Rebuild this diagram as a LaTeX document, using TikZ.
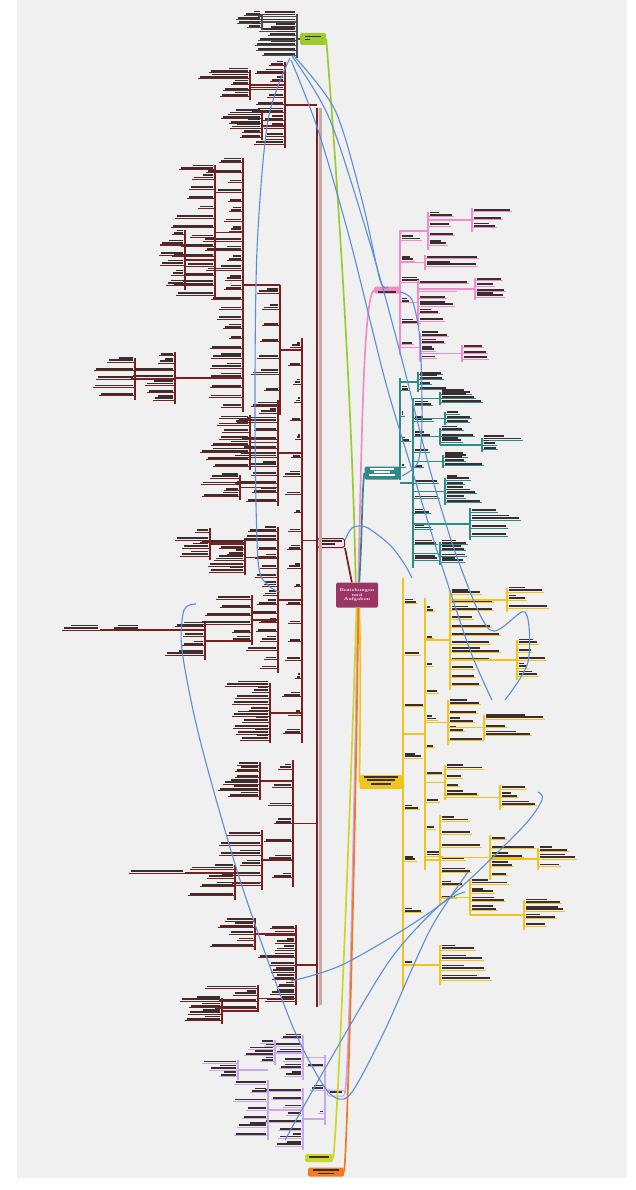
\documentclass[tikz,border=0pt]{standalone}
\definecolor{canvas}{HTML}{F0F0F0}
\definecolor{brmaroon}{HTML}{7A1E1E}
\definecolor{brtan}{HTML}{C9A7A7}
\definecolor{brrose}{HTML}{F28CC8}
\definecolor{brteal}{HTML}{2E8A86}
\definecolor{brgold}{HTML}{F2C318}
\definecolor{brlime}{HTML}{9CCB2C}
\definecolor{brlimeb}{HTML}{CBD82A}
\definecolor{brorange}{HTML}{F27A22}
\definecolor{brlilac}{HTML}{C9A6F2}
\definecolor{brlink}{HTML}{5B8ED8}
\definecolor{brplum}{HTML}{9A3566}
\definecolor{ink}{HTML}{3A2E2E}

% spine with leaves: colour, x, y top, y bottom, count, direction, max width, parent x
\newcommand{\twigs}[8]{%
  \pgfmathsetmacro{\ym}{(#3+#4)/2}%
  \draw[color=#1,line width=1.3pt] (#8,\ym) -- (#2,\ym);
  \draw[color=#1,line width=1.3pt] (#2,#3) -- (#2,#4);
  \foreach \k in {1,...,#5}{%
    \pgfmathsetmacro{\yy}{#3+(\k-.5)*(#4-#3)/#5}%
    \pgfmathsetmacro{\ww}{#7*(.35+.65*rnd)}%
    \pgfmathsetmacro{\lw}{(#6)*\ww}%
    \pgfmathsetmacro{\xs}{#2+(#6)*2}%
    \pgfmathsetmacro{\tw}{(#6)*(\ww-4)}%
    \pgfmathsetmacro{\tv}{\tw*(.4+.5*rnd)}%
    \pgfmathtruncatemacro{\two}{rnd<.5 ? 1 : 0}%
    \draw[color=#1,line width=1pt] (#2,\yy) -- ++(\lw,0);
    \fill[ink] (\xs,\yy-1) rectangle ++(\tw,-1.8);
    \ifnum\two=1 \fill[ink] (\xs,\yy-3.6) rectangle ++(\tv,-1.6);\fi
  }}

\begin{document}
\begin{tikzpicture}[x=1pt,y=-1pt,
  topic/.style={rounded corners=1.5pt,inner sep=0pt},
  branch/.style={line width=1.7pt},
  xlink/.style={brlink,line width=1.1pt}]
\useasboundingbox (0,0) rectangle (635,1190);
\fill[white] (0,0) rectangle (635,1190);
\fill[canvas] (17,0) rectangle (627,1178);
\pgfmathsetseed{11}

% main topics
\node[topic,fill=brplum,text=white,minimum width=42pt,minimum height=25pt,
  font=\fontsize{4.2}{4.8}\selectfont\bfseries,align=center] (core) at (357,595)
  {Beziehungen\\und\\Aufgaben};
\node[topic,fill=brrose,minimum width=26pt,minimum height=7pt] (pink) at (387,290) {};
\node[topic,fill=brteal,minimum width=35pt,minimum height=13pt] (teal) at (382,473) {};
\node[topic,fill=brgold,minimum width=43pt,minimum height=14pt] (gold) at (381,782) {};
\node[topic,fill=brlime,minimum width=26pt,minimum height=12pt] (limeA) at (313,39) {};
\node[topic,fill=brlimeb,minimum width=28pt,minimum height=8pt] (limeB) at (319,1158) {};
\node[topic,fill=brorange,minimum width=36pt,minimum height=9pt] (orangeA) at (326,1172) {};
\node[topic,draw=brlilac,fill=canvas,line width=1pt,minimum width=17pt,minimum height=6pt] (lilacA) at (336,1093) {};
\node[topic,draw=brmaroon,fill=brrose!25,line width=1pt,minimum width=27pt,minimum height=9pt] (redA) at (331,543) {};

% blurred labels inside topics
\fill[ink] ([xshift=-9pt,yshift=-1pt]pink.center) rectangle ++(18,2);
\fill[white] ([xshift=-12pt,yshift=3pt]teal.center) rectangle ++(24,-1.6);
\fill[white] ([xshift=-8pt,yshift=0pt]teal.center) rectangle ++(16,-1.6);
\fill[white] ([xshift=-13pt,yshift=-3pt]teal.center) rectangle ++(26,-1.6);
\fill[ink] ([xshift=-17pt,yshift=4pt]gold.center) rectangle ++(34,-1.6);
\fill[ink] ([xshift=-14pt,yshift=1pt]gold.center) rectangle ++(28,-1.6);
\fill[ink] ([xshift=-10pt,yshift=-2.5pt]gold.center) rectangle ++(20,-1.6);
\fill[ink] ([xshift=-8pt,yshift=1.5pt]limeA.center) rectangle ++(16,-1.6);
\fill[ink] ([xshift=-8pt,yshift=-1.5pt]limeA.center) rectangle ++(5,-1.6);
\fill[ink] ([xshift=-10pt,yshift=0pt]limeB.center) rectangle ++(20,-2);
\fill[ink] ([xshift=-13pt,yshift=1pt]orangeA.center) rectangle ++(26,-1.6);
\fill[ink] ([xshift=-8pt,yshift=-2pt]orangeA.center) rectangle ++(16,-1.4);
\fill[ink] ([xshift=-6pt,yshift=0pt]lilacA.center) rectangle ++(12,-1.6);
\fill[ink] ([xshift=-11pt,yshift=1.5pt]redA.center) rectangle ++(22,-1.6);
\fill[ink] ([xshift=-11pt,yshift=-1.5pt]redA.center) rectangle ++(15,-1.6);

% branches from the core
\draw[brtan,line width=2.2pt] (320.4,108) -- (320.4,1005);
\draw[brmaroon,line width=2.2pt] (316.8,108) -- (316.8,1007);
\draw[branch,brmaroon] (redA.south east) -- (core.112);
\draw[branch,brlime] (core.96) .. controls (352,380) and (332,110) .. (limeA.east);
\draw[branch,brrose] (core.84) .. controls (362,420) and (364,300) .. (pink.west);
\draw[branch,brteal] (core.80) .. controls (362,540) and (362,490) .. (teal.west);
\draw[branch,brgold] (core.-80) .. controls (361,650) and (360,760) .. (gold.west);
\draw[branch,brlilac] (core.-86) .. controls (354,800) and (350,1060) .. (lilacA.east);
\draw[branch,brlimeb] (core.-92) .. controls (350,820) and (338,1120) .. (limeB.east);
\draw[branch,brorange] (core.-84) .. controls (356,820) and (348,1130) .. (orangeA.east);

% top cluster beside limeA
\draw[black!70,line width=1.3pt] (limeA.west) -- (297,39);
\twigs{black!70}{297}{14}{58}{9}{-1}{50}{297}
\twigs{black!70}{262}{14}{30}{4}{-1}{35}{297}

% left: maroon topic
\twigs{brmaroon}{285}{62}{148}{11}{-1}{40}{317}
\twigs{brmaroon}{250}{70}{100}{5}{-1}{55}{285}
\twigs{brmaroon}{262}{112}{140}{6}{-1}{45}{285}
\twigs{brmaroon}{243}{158}{412}{26}{-1}{40}{280}
\twigs{brmaroon}{215}{165}{300}{14}{-1}{45}{243}
\twigs{brmaroon}{185}{230}{290}{6}{-1}{35}{215}
\twigs{brmaroon}{280}{285}{415}{8}{-1}{30}{302}
\twigs{brmaroon}{175}{352}{404}{7}{-1}{45}{243}
\twigs{brmaroon}{135}{358}{400}{5}{-1}{50}{175}
\twigs{brmaroon}{302}{338}{743}{22}{-1}{20}{317}
\twigs{brmaroon}{278}{400}{506}{12}{-1}{45}{302}
\twigs{brmaroon}{250}{415}{470}{8}{-1}{55}{278}
\twigs{brmaroon}{240}{475}{500}{4}{-1}{45}{278}
\twigs{brmaroon}{278}{527}{673}{16}{-1}{40}{302}
\twigs{brmaroon}{245}{540}{575}{6}{-1}{50}{278}
\twigs{brmaroon}{210}{528}{560}{4}{-1}{40}{245}
\twigs{brmaroon}{252}{595}{645}{6}{-1}{55}{278}
\twigs{brmaroon}{205}{622}{660}{4}{-1}{50}{252}
\twigs{brmaroon}{140}{630}{630}{1}{-1}{55}{205}
\twigs{brmaroon}{100}{630}{630}{1}{-1}{40}{140}
\twigs{brmaroon}{270}{683}{743}{10}{-1}{45}{302}
\twigs{brmaroon}{293}{760}{887}{7}{-1}{30}{317}
\twigs{brmaroon}{260}{762}{800}{6}{-1}{50}{293}
\twigs{brmaroon}{262}{830}{890}{6}{-1}{45}{293}
\twigs{brmaroon}{235}{865}{900}{4}{-1}{50}{262}
\twigs{brmaroon}{185}{873}{873}{1}{-1}{60}{235}
\twigs{brmaroon}{296}{925}{1005}{11}{-1}{40}{317}
\twigs{brmaroon}{255}{918}{950}{5}{-1}{45}{296}
\twigs{brmaroon}{258}{985}{1012}{4}{-1}{55}{296}
\twigs{brmaroon}{222}{998}{1024}{4}{-1}{55}{258}

% bottom: lilac topic
\twigs{brlilac}{325}{1055}{1125}{3}{-1}{20}{330}
\twigs{brlilac}{303}{1035}{1080}{6}{-1}{40}{325}
\twigs{brlilac}{275}{1040}{1065}{4}{-1}{40}{303}
\twigs{brlilac}{303}{1088}{1150}{8}{-1}{40}{325}
\twigs{brlilac}{268}{1080}{1140}{7}{-1}{45}{303}
\twigs{brlilac}{238}{1060}{1080}{3}{-1}{40}{268}

% right: rose topic
\draw[brrose,line width=1.3pt] (pink.east) -- (400,290);
\twigs{brrose}{400}{230}{355}{6}{1}{25}{400}
\twigs{brrose}{428}{212}{250}{4}{1}{42}{400}
\twigs{brrose}{472}{208}{232}{3}{1}{50}{428}
\twigs{brrose}{425}{255}{270}{2}{1}{70}{400}
\twigs{brrose}{418}{280}{325}{6}{1}{55}{400}
\twigs{brrose}{475}{278}{300}{4}{1}{52}{418}
\twigs{brrose}{420}{333}{362}{4}{1}{42}{400}
\twigs{brrose}{462}{345}{362}{3}{1}{50}{420}

% right: teal topic
\twigs{brteal}{400}{378}{480}{4}{1}{12}{400}
\twigs{brteal}{413}{398}{568}{11}{1}{28}{400}
\twigs{brteal}{418}{372}{392}{4}{1}{38}{400}
\twigs{brteal}{440}{392}{405}{3}{1}{65}{413}
\twigs{brteal}{445}{412}{425}{3}{1}{38}{413}
\twigs{brteal}{440}{428}{445}{3}{1}{42}{413}
\twigs{brteal}{482}{438}{452}{3}{1}{42}{440}
\twigs{brteal}{443}{455}{468}{3}{1}{48}{413}
\twigs{brteal}{445}{478}{505}{6}{1}{38}{413}
\twigs{brteal}{470}{508}{540}{4}{1}{55}{413}
\twigs{brteal}{440}{542}{565}{4}{1}{48}{413}

% right: gold topic
\twigs{brgold}{403}{578}{990}{8}{1}{22}{403}
\twigs{brgold}{425}{598}{870}{10}{1}{22}{403}
\twigs{brgold}{450}{590}{690}{12}{1}{52}{425}
\twigs{brgold}{507}{588}{612}{3}{1}{45}{450}
\twigs{brgold}{517}{640}{680}{5}{1}{34}{450}
\twigs{brgold}{448}{700}{745}{5}{1}{38}{425}
\twigs{brgold}{484}{715}{740}{3}{1}{65}{448}
\twigs{brgold}{445}{765}{800}{4}{1}{42}{425}
\twigs{brgold}{500}{785}{810}{3}{1}{40}{445}
\twigs{brgold}{440}{815}{905}{7}{1}{42}{425}
\twigs{brgold}{490}{835}{880}{5}{1}{48}{440}
\twigs{brgold}{538}{848}{870}{3}{1}{40}{490}
\twigs{brgold}{470}{880}{915}{4}{1}{42}{440}
\twigs{brgold}{524}{900}{930}{4}{1}{50}{470}
\twigs{brgold}{440}{945}{985}{4}{1}{52}{403}

% cross links
\draw[xlink] plot [smooth] coordinates {(290,58) (268,120) (257,250) (255,420) (258,560) (268,585) (280,592)};
\draw[xlink] plot [smooth] coordinates {(292,56) (330,120) (372,250) (402,360) (430,470) (458,560) (490,630) (525,612) (528,662) (505,700)};
\draw[xlink] plot [smooth] coordinates {(291,60) (318,130) (350,240) (385,380) (412,470) (440,560) (470,650) (492,700)};
\draw[xlink] plot [smooth] coordinates {(293,55) (335,110) (362,200) (380,280) (388,287)};
\draw[xlink] plot [smooth] coordinates {(400,292) (412,300) (420,340) (422,420) (418,462) (402,476)};
\draw[xlink] plot [smooth] coordinates {(196,604) (184,610) (182,650) (200,740) (240,880) (290,1020) (320,1080) (336,1098) (352,1092) (385,1030) (430,930) (468,872)};
\draw[xlink] plot [smooth] coordinates {(285,1140) (330,1060) (390,960) (440,905) (465,892)};
\draw[xlink] plot [smooth] coordinates {(291,981) (346,963) (440,905) (520,830) (542,800) (538,792)};
\draw[xlink] plot [smooth] coordinates {(345,540) (352,528) (366,527) (390,545) (405,565) (412,578)};
\end{tikzpicture}
\end{document}
